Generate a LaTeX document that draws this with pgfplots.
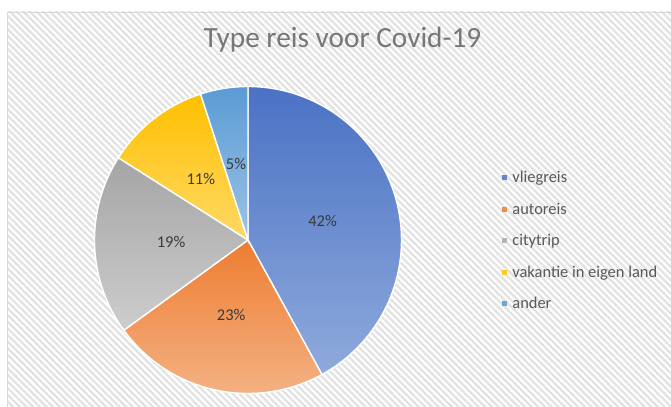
\documentclass[border=0pt]{standalone}
\usepackage{pgfplots}
\pgfplotsset{compat=1.18}
\usepackage{pgfplotstable}
\usetikzlibrary{patterns.meta}
\usepackage{fontspec}
\setmainfont{Carlito}

\definecolor{bluetop}{HTML}{4A72C4}
\definecolor{bluebot}{HTML}{8FAADC}
\definecolor{orangetop}{HTML}{ED7D31}
\definecolor{orangebot}{HTML}{F4B183}
\definecolor{graytop}{HTML}{A5A5A5}
\definecolor{graybot}{HTML}{CDCDCD}
\definecolor{yellowtop}{HTML}{FFC000}
\definecolor{yellowbot}{HTML}{FFD966}
\definecolor{lbtop}{HTML}{5B9BD5}
\definecolor{lbbot}{HTML}{9DC3E6}
\definecolor{legblue}{HTML}{6784C9}
\definecolor{legorange}{HTML}{EF8D4F}
\definecolor{leggray}{HTML}{B4B4B4}
\definecolor{legyellow}{HTML}{FFC828}
\definecolor{leglb}{HTML}{6FA6D9}
\definecolor{hatch}{HTML}{E2E2E2}
\definecolor{bordergray}{HTML}{D9D9D9}
\definecolor{titlegray}{HTML}{777777}
\definecolor{labelgray}{HTML}{3A3A3A}
\definecolor{legendgray}{HTML}{595959}

\pgfplotstableread[col sep=comma]{
name,value
vliegreis,42
autoreis,23
citytrip,19
vakantie in eigen land,11
ander,5
}\piedata

\begin{document}
\begin{tikzpicture}
\pgfplotstablegetelem{0}{value}\of\piedata \edef\vA{\pgfplotsretval}
\pgfplotstablegetelem{1}{value}\of\piedata \edef\vB{\pgfplotsretval}
\pgfplotstablegetelem{2}{value}\of\piedata \edef\vC{\pgfplotsretval}
\pgfplotstablegetelem{3}{value}\of\piedata \edef\vD{\pgfplotsretval}
\pgfplotstablegetelem{4}{value}\of\piedata \edef\vE{\pgfplotsretval}
\pgfmathsetmacro\tot{\vA+\vB+\vC+\vD+\vE}
\def\cx{248}\def\cy{167}\def\R{153.5}\def\rl{77}
\pgfmathsetmacro\aA{90}
\pgfmathsetmacro\aB{\aA-360*\vA/\tot}
\pgfmathsetmacro\aC{\aB-360*\vB/\tot}
\pgfmathsetmacro\aD{\aC-360*\vC/\tot}
\pgfmathsetmacro\aE{\aD-360*\vD/\tot}
\pgfmathsetmacro\aF{\aE-360*\vE/\tot}
\pgfmathsetmacro\lAx{\cx+\rl*cos((\aA+\aB)/2)}\pgfmathsetmacro\lAy{\cy+\rl*sin((\aA+\aB)/2)}
\pgfmathsetmacro\lBx{\cx+\rl*cos((\aB+\aC)/2)}\pgfmathsetmacro\lBy{\cy+\rl*sin((\aB+\aC)/2)}
\pgfmathsetmacro\lCx{\cx+\rl*cos((\aC+\aD)/2)}\pgfmathsetmacro\lCy{\cy+\rl*sin((\aC+\aD)/2)}
\pgfmathsetmacro\lDx{\cx+\rl*cos((\aD+\aE)/2)}\pgfmathsetmacro\lDy{\cy+\rl*sin((\aD+\aE)/2)}
\pgfmathsetmacro\lEx{\cx+\rl*cos((\aE+\aF)/2)}\pgfmathsetmacro\lEy{\cy+\rl*sin((\aE+\aF)/2)}

\path[use as bounding box] (0,0) rectangle (671bp,407bp);
\fill[white] (0,0) rectangle (671bp,407bp);
\fill[pattern={Lines[angle=-45,distance=4.7bp,line width=2.2bp]}, pattern color=hatch] (7bp,0) rectangle (671bp,395bp);
\draw[line width=0.8bp, bordergray] (7bp,-2bp) -- (7bp,395bp) -- (673bp,395bp);

\newcommand\slice[4]{%
  \addplot[forget plot, draw=white, line width=1.4bp, top color=#3, bottom color=#4,
    domain=#2:#1, samples=120, variable=\t]
    ({\cx+\R*cos(\t)},{\cy+\R*sin(\t)}) -- (axis cs:\cx,\cy) -- cycle;}

\begin{axis}[
  at={(0,0)}, anchor=origin,
  x=1bp, y=1bp, xmin=0, xmax=671, ymin=0, ymax=407,
  hide axis, clip=false,
  title={Type reis voor Covid-19},
  title style={at={(0.5104,0.8698)}, anchor=base, yshift=0pt,
    font=\fontsize{29.4}{34}\selectfont, text=titlegray},
  legend cell align=left,
  legend image code/.code={\fill[#1, draw=none] (0bp,-2.6bp) rectangle (5.2bp,2.6bp);},
  legend style={draw=none, fill=none, at={(axis cs:502,238)}, anchor=north west,
    row sep=14.7bp, inner sep=0pt,
    nodes={font=\fontsize{16.5}{19}\selectfont, text=legendgray, inner sep=2bp},
    /tikz/every odd column/.append style={column sep=3bp}},
]
\slice{\aA}{\aB}{bluetop}{bluebot}
\slice{\aB}{\aC}{orangetop}{orangebot}
\slice{\aC}{\aD}{graytop}{graybot}
\slice{\aD}{\aE}{yellowtop}{yellowbot}
\slice{\aE}{\aF}{lbtop}{lbbot}

\addlegendimage{fill=legblue}\addlegendentry{vliegreis}
\addlegendimage{fill=legorange}\addlegendentry{autoreis}
\addlegendimage{fill=leggray}\addlegendentry{citytrip}
\addlegendimage{fill=legyellow}\addlegendentry{vakantie in eigen land}
\addlegendimage{fill=leglb}\addlegendentry{ander}

\begin{scope}[every node/.style={font=\fontsize{16.5}{19}\selectfont, text=labelgray}]
\node at (axis cs:\lAx,\lAy) {\vA\%};
\node at (axis cs:\lBx,\lBy) {\vB\%};
\node at (axis cs:\lCx,\lCy) {\vC\%};
\node at (axis cs:\lDx,\lDy) {\vD\%};
\node at (axis cs:\lEx,\lEy) {\vE\%};
\end{scope}
\end{axis}
\end{tikzpicture}
\end{document}
